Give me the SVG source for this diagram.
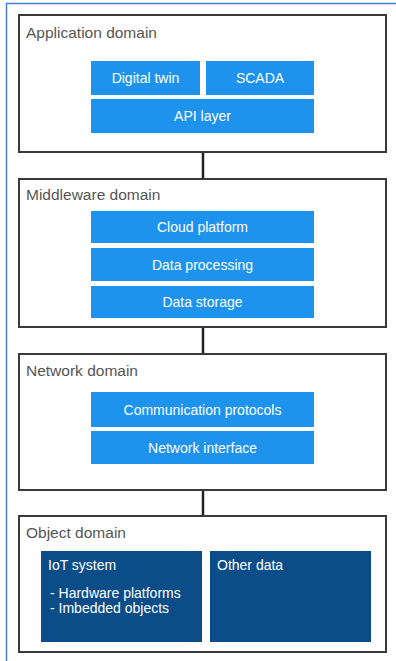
<svg xmlns="http://www.w3.org/2000/svg" width="396" height="661" viewBox="0 0 396 661">
<style>
.domain{fill:#ffffff;stroke:#3a3a3a;stroke-width:2}
.dlabel{font-family:"Liberation Sans",Arial,sans-serif;font-size:15.5px;fill:#555555}
.blue{fill:#1d93ee}
.dark{fill:#0b4d88}
.btext{font-family:"Liberation Sans",Arial,sans-serif;font-size:14px;fill:#ffffff;text-anchor:middle}
.wtext{font-family:"Liberation Sans",Arial,sans-serif;font-size:14px;fill:#ffffff}
.stext{font-family:"Liberation Sans",Arial,sans-serif;font-size:14px;fill:#ffffff}
.conn{stroke:#222222;stroke-width:2.5;fill:none}
</style>
<rect x="0" y="0" width="396" height="661" fill="#ffffff"/>
<line x1="6" y1="3.5" x2="396" y2="3.5" stroke="#4a7fd6" stroke-width="1.5"/>
<line x1="6.5" y1="3" x2="6.5" y2="661" stroke="#4a7fd6" stroke-width="1.5"/>
<g id="connectors">
<line class="conn" x1="203" y1="152" x2="203" y2="179"/>
<line class="conn" x1="203" y1="327" x2="203" y2="354"/>
<line class="conn" x1="203" y1="490" x2="203" y2="516"/>
</g>
<g id="application-domain">
<rect class="domain" x="19" y="15" width="367" height="137"/>
<text class="dlabel" x="26" y="38">Application  domain</text>
</g>
<g id="digital-twin">
<rect class="blue" x="91" y="61" width="109" height="34"/>
<text class="btext" x="145.5" y="83">Digital twin</text>
</g>
<g id="scada">
<rect class="blue" x="206" y="61" width="108" height="34"/>
<text class="btext" x="260" y="83">SCADA</text>
</g>
<g id="api-layer">
<rect class="blue" x="91" y="99" width="223" height="34"/>
<text class="btext" x="202.5" y="121">API layer</text>
</g>
<g id="middleware-domain">
<rect class="domain" x="19" y="179" width="367" height="148"/>
<text class="dlabel" x="26" y="200">Middleware domain</text>
</g>
<g id="cloud-platform">
<rect class="blue" x="91" y="211" width="223" height="32"/>
<text class="btext" x="202.5" y="232">Cloud platform</text>
</g>
<g id="data-processing">
<rect class="blue" x="91" y="248" width="223" height="33"/>
<text class="btext" x="202.5" y="269.5">Data processing</text>
</g>
<g id="data-storage">
<rect class="blue" x="91" y="286" width="223" height="32"/>
<text class="btext" x="202.5" y="307">Data storage</text>
</g>
<g id="network-domain">
<rect class="domain" x="19" y="354" width="367" height="136"/>
<text class="dlabel" x="26" y="376">Network domain</text>
</g>
<g id="communication-protocols">
<rect class="blue" x="91" y="392" width="223" height="35"/>
<text class="btext" x="202.5" y="414.5">Communication protocols</text>
</g>
<g id="network-interface">
<rect class="blue" x="91" y="431" width="223" height="33"/>
<text class="btext" x="202.5" y="452.5">Network interface</text>
</g>
<g id="object-domain">
<rect class="domain" x="19" y="516" width="367" height="136"/>
<text class="dlabel" x="26" y="538">Object domain</text>
</g>
<g id="iot-system">
<rect class="dark" x="41" y="551" width="161" height="91"/>
<text class="wtext" x="48" y="570">IoT system</text>
<text class="stext" x="50" y="598">- Hardware platforms</text>
<text class="stext" x="50" y="613">- Imbedded objects</text>
</g>
<g id="other-data">
<rect class="dark" x="210" y="551" width="161" height="91"/>
<text class="wtext" x="217" y="570">Other data</text>
</g>
</svg>
